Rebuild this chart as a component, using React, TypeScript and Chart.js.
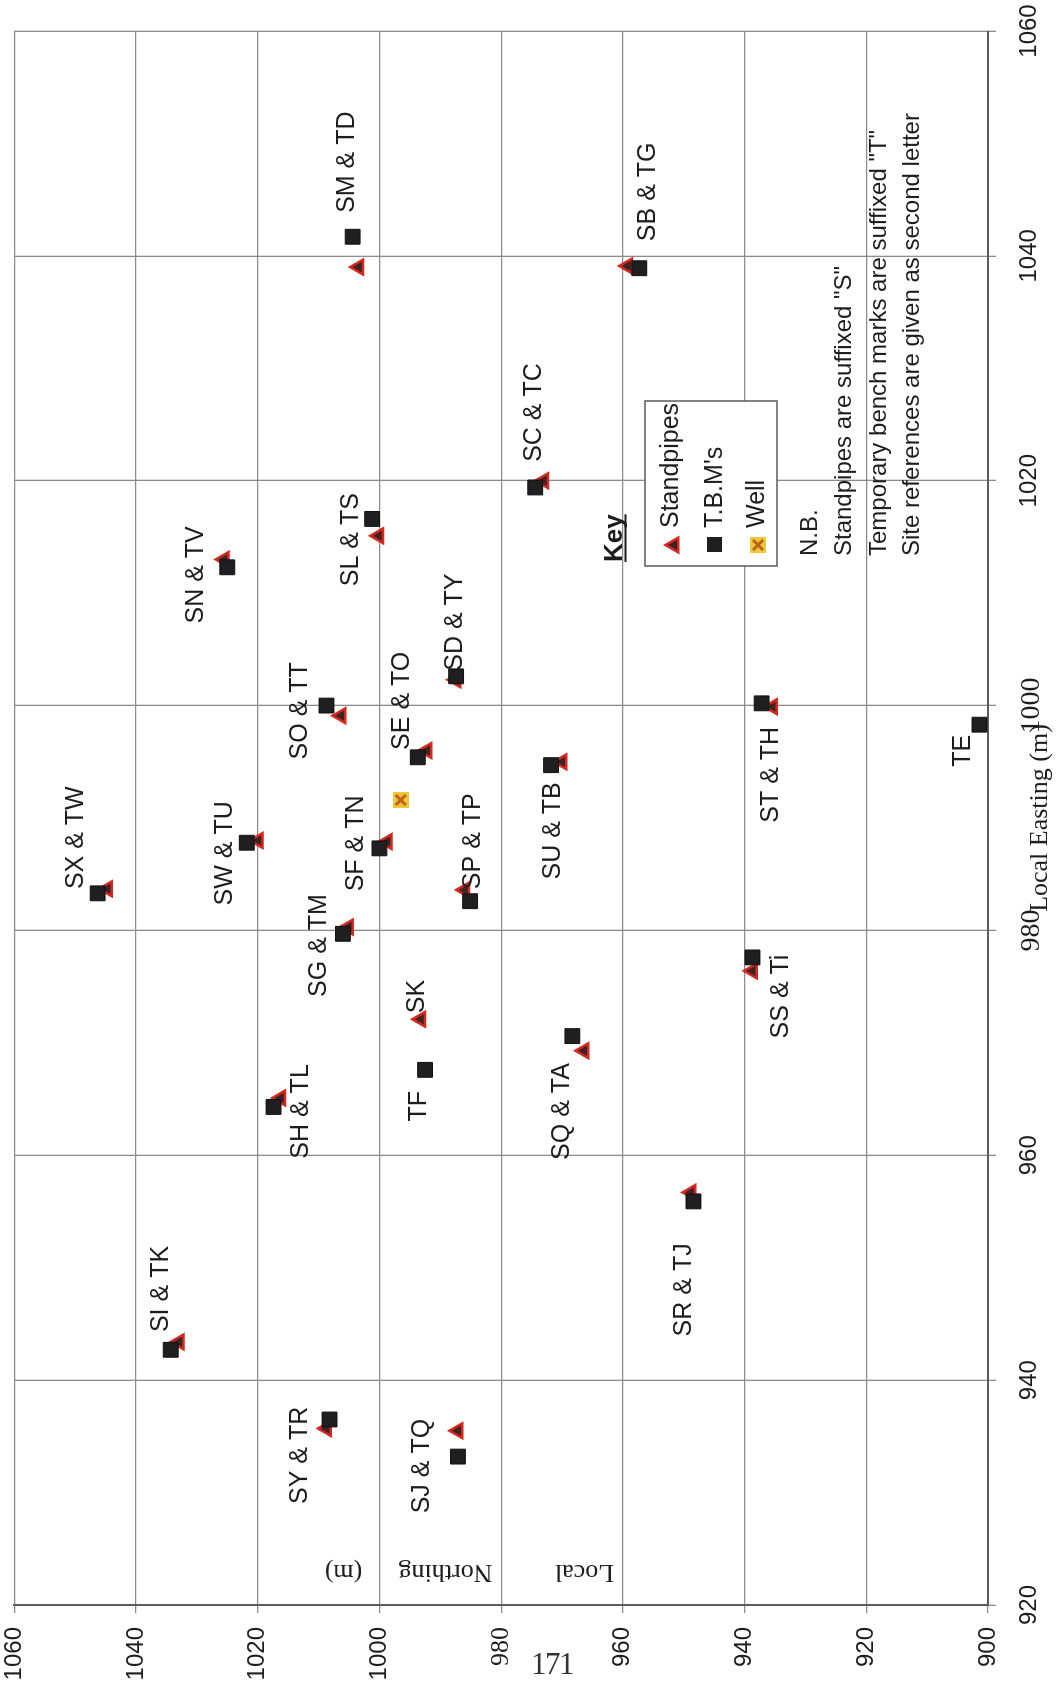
import React, { useEffect, useRef } from 'react';
import { Chart, registerables } from 'chart.js';

Chart.register(...registerables);

// Axis ticks (metres, local grid)
const eastingTicks = [920, 940, 960, 980, 1000, 1020, 1040, 1060];
const northingTicks = [900, 920, 940, 960, 980, 1000, 1020, 1040, 1060];

// Standpipes (suffix "S")
const standpipeIds = ['SM', 'SB', 'SC', 'SL', 'SN', 'SX', 'SW', 'SO', 'SE', 'SD', 'SF', 'SP', 'SG', 'SK', 'SH', 'SU', 'ST', 'SS', 'SQ', 'SI', 'SY', 'SJ', 'SR'];
const standpipeEasting = [1039.0, 1039.1, 1020.0, 1015.1, 1013.0, 983.7, 988.0, 999.1, 996.0, 1002.3, 987.9, 983.6, 980.3, 972.1, 965.1, 995.0, 999.9, 976.4, 969.3, 943.4, 935.7, 935.5, 956.7];
const standpipeNorthing = [1003.4, 959.2, 973.0, 1000.1, 1025.5, 1044.7, 1019.9, 1006.3, 992.2, 987.4, 998.7, 986.0, 1005.1, 993.2, 1016.2, 970.0, 935.4, 938.7, 966.4, 1032.9, 1008.7, 987.1, 948.8];

// Temporary bench marks (suffix "T")
const tbmIds = ['TD', 'TG', 'TC', 'TS', 'TV', 'TW', 'TU', 'TT', 'TO', 'TY', 'TN', 'TP', 'TM', 'TF', 'TL', 'TB', 'TH', 'TE', 'Ti', 'TA', 'TK', 'TR', 'TQ', 'TJ'];
const tbmEasting = [1041.7, 1038.9, 1019.4, 1016.6, 1012.3, 983.3, 987.8, 1000.0, 995.4, 1002.6, 987.3, 982.6, 979.7, 967.6, 964.3, 994.7, 1000.2, 998.3, 977.6, 970.6, 942.7, 936.5, 933.2, 955.9];
const tbmNorthing = [1004.4, 957.3, 974.4, 1001.2, 1025.0, 1046.3, 1021.8, 1008.7, 993.7, 987.4, 1000.0, 985.1, 1006.0, 992.5, 1017.4, 971.8, 937.2, 901.4, 938.7, 968.3, 1034.3, 1008.2, 987.1, 948.4];

// Well
const wellEasting = [991.6];
const wellNorthing = [996.5];

// Site references and the mark each one is written beside
const siteLabels = ['SM & TD', 'SB & TG', 'SC & TC', 'SL & TS', 'SN & TV', 'SX & TW', 'SW & TU', 'SO & TT', 'SE & TO', 'SD & TY', 'SF & TN', 'SP & TP', 'SG & TM', 'SK', 'TF', 'SH & TL', 'SU & TB', 'ST & TH', 'TE', 'SS & Ti', 'SQ & TA', 'SI & TK', 'SY & TR', 'SJ & TQ', 'SR & TJ'];
const labelAnchors = ['TD', 'TG', 'TC', 'TS', 'TV', 'TW', 'TU', 'TT', 'TO', 'TY', 'TN', 'TP', 'TM', 'SK', 'TF', 'TL', 'TB', 'TH', 'TE', 'Ti', 'TA', 'TK', 'TR', 'TQ', 'TJ'];

// Label placement beside its mark, in canvas pixels (layout only)
const labelOffsets: [number, number][] = [
  [74.6, -5.2], [76.4, 8.6], [74.9, -1], [-20.7, -21.2], [-7.6, -31.6], [55.6, -22], [-10.6, -21.8],
  [-5.2, -26.2], [56.5, -15.5], [54.2, -1.4], [4.9, -23.3], [60, 2.7], [-11.7, -23.6], [22.7, -3.4],
  [-36.4, -6.3], [-4.5, 27.2], [-65.7, 1.9], [-71.5, 9.9], [-26.2, -16.1], [-39.1, 28.8], [-75.4, -10.1],
  [60.8, -9.1], [-35.9, -29.6], [-9.5, -35.5], [-88.5, -9.3],
];

const notes = [
  'N.B.',
  'Standpipes are suffixed "S"',
  'Temporary bench marks are suffixed "T"',
  'Site references are given as second letter',
];

const SANS = '"Liberation Sans", Arial, sans-serif';
const SERIF = '"Liberation Serif", "Times New Roman", serif';
const TEXT = '#1d1d1d';
const TRI_FILL = '#3a2424';
const TRI_EDGE = '#d9271d';
const SQ_FILL = '#1f1f22';

const W = 1691;
const H = 1058;

function makeWellIcon(size: number): HTMLCanvasElement {
  const c = document.createElement('canvas');
  c.width = size;
  c.height = size;
  const g = c.getContext('2d')!;
  g.fillStyle = '#f3c53a';
  g.fillRect(0, 0, size, size);
  g.strokeStyle = '#b8641c';
  g.lineWidth = 3;
  g.beginPath();
  g.moveTo(3, 3);
  g.lineTo(size - 3, size - 3);
  g.moveTo(size - 3, 3);
  g.lineTo(3, size - 3);
  g.stroke();
  return c;
}

function drawTriangle(ctx: CanvasRenderingContext2D, x: number, y: number, r: number) {
  ctx.beginPath();
  for (let i = 0; i < 3; i++) {
    const a = (i * 2 * Math.PI) / 3;
    const px = x + Math.sin(a) * r;
    const py = y - Math.cos(a) * r;
    if (i === 0) ctx.moveTo(px, py);
    else ctx.lineTo(px, py);
  }
  ctx.closePath();
  ctx.fillStyle = TRI_FILL;
  ctx.fill();
  ctx.lineWidth = 2.5;
  ctx.strokeStyle = TRI_EDGE;
  ctx.stroke();
}

export default function App() {
  const canvasRef = useRef<HTMLCanvasElement | null>(null);

  useEffect(() => {
    const canvas = canvasRef.current;
    if (!canvas) return;
    const wellIcon = makeWellIcon(16);

    const findAnchor = (id: string): [number, number] => {
      const t = tbmIds.indexOf(id);
      if (t >= 0) return [tbmEasting[t], tbmNorthing[t]];
      const s = standpipeIds.indexOf(id);
      return [standpipeEasting[s], standpipeNorthing[s]];
    };

    const annotations = {
      id: 'siteAnnotations',
      afterDatasetsDraw(chart: any) {
        const ctx: CanvasRenderingContext2D = chart.ctx;
        const xs = chart.scales.x;
        const ys = chart.scales.y;
        const area = chart.chartArea;
        ctx.save();

        // site labels
        ctx.font = `25px ${SANS}`;
        ctx.fillStyle = TEXT;
        ctx.textAlign = 'center';
        ctx.textBaseline = 'middle';
        siteLabels.forEach((label, i) => {
          const [e, n] = findAnchor(labelAnchors[i]);
          const [dx, dy] = labelOffsets[i];
          ctx.fillText(label, xs.getPixelForValue(e) + dx, ys.getPixelForValue(n) + dy);
        });

        // y-axis title, written up the inside of the plot
        ctx.font = `26px ${SERIF}`;
        const words: [string, number][] = [['Local', 584.5], ['Northing', 445.5], ['(m)', 343.5]];
        words.forEach(([w, yy]) => {
          ctx.save();
          ctx.translate(area.left + 33, yy);
          ctx.rotate(-Math.PI / 2);
          ctx.textAlign = 'center';
          ctx.textBaseline = 'middle';
          ctx.fillText(w, 0, 0);
          ctx.restore();
        });

        // x-axis title
        ctx.textAlign = 'center';
        ctx.textBaseline = 'alphabetic';
        ctx.fillText('Local Easting (m)', (area.left + area.right) / 2, 1047);

        // key
        ctx.textAlign = 'left';
        ctx.font = `bold 26px ${SANS}`;
        ctx.fillText('Key', 1129, 621.5);
        const kw = ctx.measureText('Key').width;
        ctx.fillRect(1129, 624.5, kw, 2);

        ctx.fillStyle = '#ffffff';
        ctx.fillRect(1125, 645, 165, 132);
        ctx.lineWidth = 1.5;
        ctx.strokeStyle = '#5a5a5a';
        ctx.strokeRect(1125, 645, 165, 132);

        drawTriangle(ctx, 1146, 674, 8.5);
        ctx.fillStyle = SQ_FILL;
        ctx.fillRect(1139, 707, 15, 15);
        ctx.drawImage(wellIcon, 1138, 750);

        ctx.fillStyle = TEXT;
        ctx.font = `25px ${SANS}`;
        ctx.fillText('Standpipes', 1163, 677.5);
        ctx.fillText("T.B.M's", 1163, 722);
        ctx.fillText('Well', 1163, 763.5);

        // notes
        ctx.font = `24px ${SANS}`;
        const baselines = [817, 851, 885.5, 918.5];
        notes.forEach((t, i) => ctx.fillText(t, 1135, baselines[i]));

        ctx.restore();
      },
    };

    const eastingFont = (ctx: any) => {
      const v = ctx.tick ? ctx.tick.value : null;
      if (v === 980 || v === 1000) return { family: SERIF, size: 28 };
      return { family: SANS, size: 24 };
    };
    const northingFont = (ctx: any) => {
      const v = ctx.tick ? ctx.tick.value : null;
      if (v === 980) return { family: SERIF, size: 26 };
      return { family: SANS, size: 24 };
    };

    const chart = new Chart(canvas, {
      type: 'scatter',
      data: {
        datasets: [
          {
            label: 'Well',
            data: wellEasting.map((e, i) => ({ x: e, y: wellNorthing[i] })),
            pointStyle: wellIcon as any,
            pointRadius: 8,
            order: 0,
          },
          {
            label: "T.B.M's",
            data: tbmEasting.map((e, i) => ({ x: e, y: tbmNorthing[i] })),
            pointStyle: 'rect',
            pointRadius: 10.5,
            backgroundColor: SQ_FILL,
            borderColor: '#111111',
            borderWidth: 1,
            order: 1,
          },
          {
            label: 'Standpipes',
            data: standpipeEasting.map((e, i) => ({ x: e, y: standpipeNorthing[i] })),
            pointStyle: 'triangle',
            pointRadius: 8.5,
            backgroundColor: TRI_FILL,
            borderColor: TRI_EDGE,
            borderWidth: 2.5,
            order: 2,
          },
        ],
      },
      options: {
        responsive: false,
        animation: false,
        events: [],
        layout: { padding: { top: 14.3, right: 31, left: 0, bottom: 0 } },
        plugins: {
          legend: { display: false },
          tooltip: { enabled: false },
        },
        scales: {
          x: {
            type: 'linear',
            min: eastingTicks[0],
            max: eastingTicks[eastingTicks.length - 1],
            afterBuildTicks: (s: any) => {
              s.ticks = eastingTicks.map((v) => ({ value: v }));
            },
            afterFit: (s: any) => {
              s.height = 70;
              s.paddingLeft = 0;
              s.paddingRight = 0;
            },
            ticks: {
              font: eastingFont,
              color: TEXT,
              padding: 19,
              maxRotation: 0,
              callback: (v: any) => String(v),
            },
            grid: { color: '#8c8c8c', lineWidth: 1.3, tickLength: 8 },
            border: { color: '#5c5c5c', width: 2 },
          },
          y: {
            type: 'linear',
            min: northingTicks[0],
            max: northingTicks[northingTicks.length - 1],
            afterBuildTicks: (s: any) => {
              s.ticks = northingTicks.map((v) => ({ value: v }));
            },
            afterFit: (s: any) => {
              s.width = 86;
              s.paddingTop = 0;
              s.paddingBottom = 0;
            },
            ticks: {
              font: northingFont,
              color: TEXT,
              padding: 14,
              callback: (v: any) => String(v),
            },
            grid: { color: '#8c8c8c', lineWidth: 1.3, tickLength: 8 },
            border: { color: '#5c5c5c', width: 2 },
          },
        },
      },
      plugins: [annotations],
    });

    return () => chart.destroy();
  }, []);

  return (
    <div
      style={{
        position: 'fixed',
        left: 0,
        top: 0,
        width: 1058,
        height: 1691,
        overflow: 'hidden',
        background: '#ffffff',
      }}
    >
      <div
        style={{
          position: 'absolute',
          left: 0,
          top: 0,
          width: W,
          height: H,
          transformOrigin: '0 0',
          transform: `translateY(${W}px) rotate(-90deg)`,
        }}
      >
        <canvas ref={canvasRef} width={W} height={H} style={{ display: 'block', width: W, height: H }} />
      </div>
      <div
        style={{
          position: 'absolute',
          left: 531,
          top: 1648,
          font: `31px ${SERIF}`,
          lineHeight: '31px',
          color: '#333',
          letterSpacing: '-1.5px',
        }}
      >
        171
      </div>
    </div>
  );
}
